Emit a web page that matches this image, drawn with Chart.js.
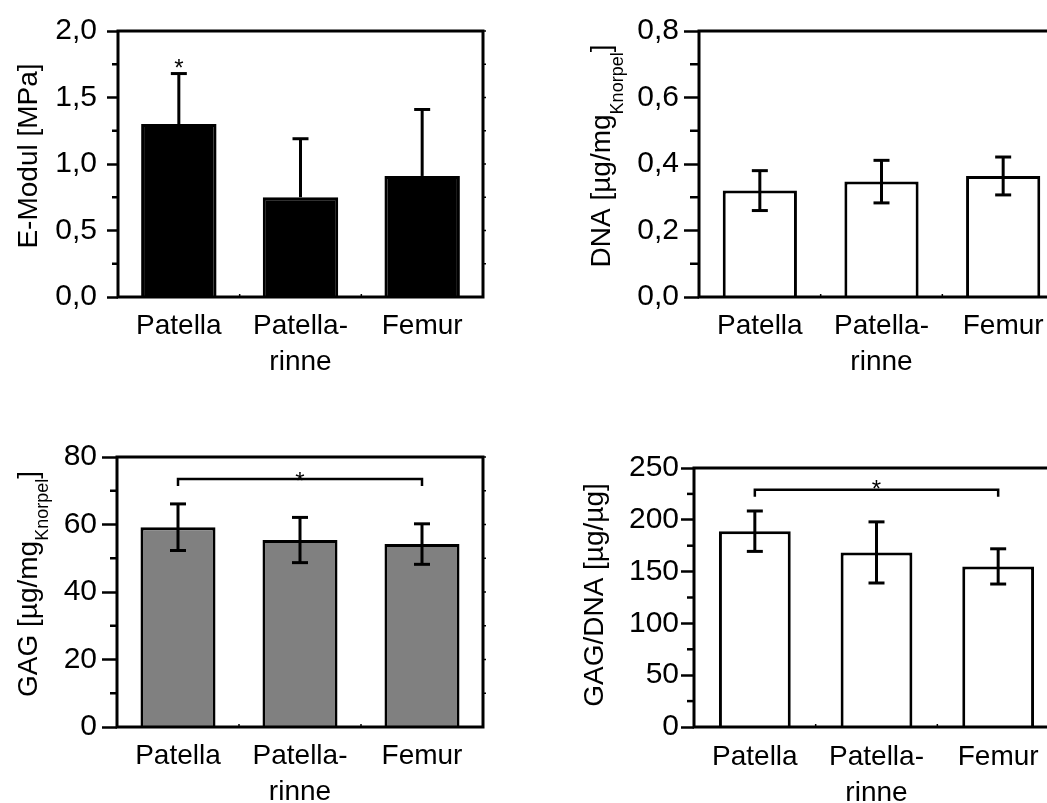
<!DOCTYPE html>
<html>
<head>
<meta charset="utf-8">
<script src="https://cdn.jsdelivr.net/npm/chart.js@4.4.1/dist/chart.umd.min.js"></script>
<style>
  html, body { margin: 0; padding: 0; background: #fff; overflow: hidden; width: 1047px; height: 803px; }
  canvas { position: absolute; }
</style>
</head>
<body>
<canvas id="cE"></canvas>
<canvas id="cDNA"></canvas>
<canvas id="cGAG"></canvas>
<canvas id="cRatio"></canvas>
<script>
// --- data ---
const categories = [["Patella"], ["Patella-", "rinne"], ["Femur"]];

const eModulMean = [1.30, 0.75, 0.91];
const eModulSd = [0.38, 0.44, 0.50];
const eModulTicks = [0, 0.5, 1.0, 1.5, 2.0];

const dnaMean = [0.32, 0.347, 0.364];
const dnaSd = [0.060, 0.064, 0.057];
const dnaTicks = [0, 0.2, 0.4, 0.6, 0.8];

const gagMean = [59.2, 55.4, 54.2];
const gagSd = [6.9, 6.7, 6.0];
const gagTicks = [0, 20, 40, 60, 80];

const ratioMean = [189, 168.5, 155];
const ratioSd = [19.5, 29.5, 17];
const ratioTicks = [0, 50, 100, 150, 200, 250];

// significance: [from, to, bracket level]; single star: [index]
const gagSig = [0, 2, 73.5];
const ratioSig = [0, 2, 229];
const eModulStar = [0];

const FONT = "'Liberation Sans', Arial, sans-serif";
Chart.defaults.font.family = FONT;
Chart.defaults.color = "#000";

function commaFmt(d) {
  return (v) => d ? v.toFixed(d).replace(".", ",") : String(v);
}

function line(ctx, x1, y1, x2, y2) {
  ctx.beginPath(); ctx.moveTo(x1, y1); ctx.lineTo(x2, y2); ctx.stroke();
}

// --- custom drawing: error bars, frame, minor ticks, brackets, title ---
function makeDecor(p) {
  return {
    id: "decor",
    afterDatasetsDraw(chart) {
      const ctx = chart.ctx, y = chart.scales.y;
      const meta = chart.getDatasetMeta(0);
      ctx.save();
      ctx.strokeStyle = "#000";
      ctx.lineWidth = 3;
      p.mean.forEach((m, i) => {
        const cx = meta.data[i].x;
        const top = y.getPixelForValue(m + p.sd[i]);
        const bot = p.upperOnly ? y.getPixelForValue(m) : y.getPixelForValue(m - p.sd[i]);
        line(ctx, cx, top, cx, bot);
        line(ctx, cx - 8, top, cx + 8, top);
        if (!p.upperOnly) line(ctx, cx - 8, bot, cx + 8, bot);
      });
      ctx.restore();
    },
    afterDraw(chart) {
      const ctx = chart.ctx, y = chart.scales.y;
      const a = chart.chartArea;
      const meta = chart.getDatasetMeta(0);
      ctx.save();
      ctx.strokeStyle = "#000";
      ctx.fillStyle = "#000";
      // minor ticks left + small ticks right
      ctx.lineWidth = 2.5;
      for (let i = 0; i < p.ticks.length - 1; i++) {
        const mv = (p.ticks[i] + p.ticks[i + 1]) / 2;
        const py = y.getPixelForValue(mv);
        line(ctx, a.left - p.minorLen, py, a.left, py);
      }
      ctx.lineWidth = 1.5;
      for (let i = 0; i < p.ticks.length - 1; i++) {
        [p.ticks[i + 1], (p.ticks[i] + p.ticks[i + 1]) / 2].forEach((v) => {
          const py = y.getPixelForValue(v);
          line(ctx, a.right, py, a.right + 3, py);
        });
      }
      for (let i = 1; i < p.mean.length; i++) {
        const bx = (meta.data[i - 1].x + meta.data[i].x) / 2;
        line(ctx, bx, a.bottom, bx, a.bottom - 3);
      }
      // frame
      ctx.lineWidth = 3;
      ctx.strokeRect(a.left, a.top, a.right - a.left, a.bottom - a.top);
      // significance bracket
      ctx.font = "24px " + FONT;
      ctx.textAlign = "center";
      ctx.textBaseline = "alphabetic";
      if (p.sig) {
        const x1 = meta.data[p.sig[0]].x, x2 = meta.data[p.sig[1]].x;
        const by = y.getPixelForValue(p.sig[2]);
        ctx.lineWidth = 2.5;
        ctx.beginPath();
        ctx.moveTo(x1, by + 7); ctx.lineTo(x1, by); ctx.lineTo(x2, by); ctx.lineTo(x2, by + 7);
        ctx.stroke();
        ctx.fillText("*", (x1 + x2) / 2, by - p.starGap + 14);
      }
      if (p.star) {
        p.star.forEach((i) => {
          const sy = y.getPixelForValue(p.mean[i] + p.sd[i]);
          ctx.fillText("*", meta.data[i].x, sy - 11.5 + 14);
        });
      }
      // rotated axis title with optional subscript
      ctx.textAlign = "left";
      let total = 0;
      p.title.forEach((t) => {
        ctx.font = t.size + "px " + FONT;
        total += ctx.measureText(t.text).width;
      });
      ctx.translate(p.titleX, p.titleY);
      ctx.rotate(-Math.PI / 2);
      let pos = -total / 2;
      p.title.forEach((t) => {
        ctx.font = t.size + "px " + FONT;
        ctx.fillText(t.text, pos, t.shift || 0);
        pos += ctx.measureText(t.text).width;
      });
      ctx.restore();
    }
  };
}

function makePanel(id, p) {
  const cv = document.getElementById(id);
  cv.width = p.w; cv.height = p.h;
  cv.style.left = p.left + "px"; cv.style.top = p.top + "px";
  return new Chart(cv.getContext("2d"), {
    type: "bar",
    data: {
      labels: categories,
      datasets: [{
        data: p.mean,
        backgroundColor: p.fill,
        borderColor: "#000",
        borderWidth: 3,
        borderSkipped: "bottom",
        barPercentage: p.barPct,
        categoryPercentage: 1
      }]
    },
    options: {
      responsive: false,
      animation: false,
      events: [],
      layout: { padding: { top: p.area[1], right: p.w - p.area[2], left: 0, bottom: 0 } },
      plugins: { legend: { display: false }, tooltip: { enabled: false } },
      scales: {
        x: {
          grid: { display: false, drawTicks: false },
          border: { display: false },
          ticks: { font: { size: 28, lineHeight: 36 / 28 }, padding: p.xPad, color: "#000", maxRotation: 0, autoSkip: false },
          afterFit: (s) => { s.height = p.h - p.area[3]; }
        },
        y: {
          min: p.ticks[0],
          max: p.ticks[p.ticks.length - 1],
          afterBuildTicks: (s) => { s.ticks = p.ticks.map((v) => ({ value: v })); },
          grid: { drawOnChartArea: false, drawTicks: true, tickLength: p.majorLen, tickWidth: 2.5, tickColor: "#000" },
          border: { display: false },
          ticks: { font: { size: 30 }, padding: p.yPad, color: "#000", callback: commaFmt(p.dec) },
          afterFit: (s) => { s.width = p.area[0]; }
        }
      }
    },
    plugins: [makeDecor(p)]
  });
}

makePanel("cE", {
  left: 0, top: 0, w: 520, h: 400, area: [118, 31, 483, 297],
  mean: eModulMean, sd: eModulSd, ticks: eModulTicks, dec: 1, upperOnly: true,
  fill: "#000", barPct: 0.62, majorLen: 11, minorLen: 6, yPad: 10, xPad: 11,
  star: eModulStar,
  title: [{ text: "E-Modul [MPa]", size: 28 }], titleX: 37, titleY: 156
});

makePanel("cDNA", {
  left: 520, top: 0, w: 560, h: 400, area: [179, 31, 544, 297],
  mean: dnaMean, sd: dnaSd, ticks: dnaTicks, dec: 1,
  fill: "#fff", barPct: 0.61, majorLen: 15, minorLen: 9, yPad: 5, xPad: 11,
  title: [{ text: "DNA [µg/mg", size: 28 }, { text: "Knorpel", size: 18, shift: 13 }, { text: "]", size: 28 }],
  titleX: 90, titleY: 156
});

makePanel("cGAG", {
  left: 0, top: 400, w: 520, h: 403, area: [117, 57, 483, 327],
  mean: gagMean, sd: gagSd, ticks: gagTicks, dec: 0,
  fill: "#808080", barPct: 0.615, majorLen: 15, minorLen: 7, yPad: 5, xPad: 11,
  sig: gagSig, starGap: 4,
  title: [{ text: "GAG [µg/mg", size: 28 }, { text: "Knorpel", size: 18, shift: 11 }, { text: "]", size: 28 }],
  titleX: 37, titleY: 184
});

makePanel("cRatio", {
  left: 520, top: 400, w: 560, h: 403, area: [174, 68, 539, 327],
  mean: ratioMean, sd: ratioSd, ticks: ratioTicks, dec: 0,
  fill: "#fff", barPct: 0.59, majorLen: 13, minorLen: 7, yPad: 2, xPad: 12,
  sig: ratioSig, starGap: 7,
  title: [{ text: "GAG/DNA [µg/µg]", size: 28 }], titleX: 83, titleY: 195
});
</script>
</body>
</html>
